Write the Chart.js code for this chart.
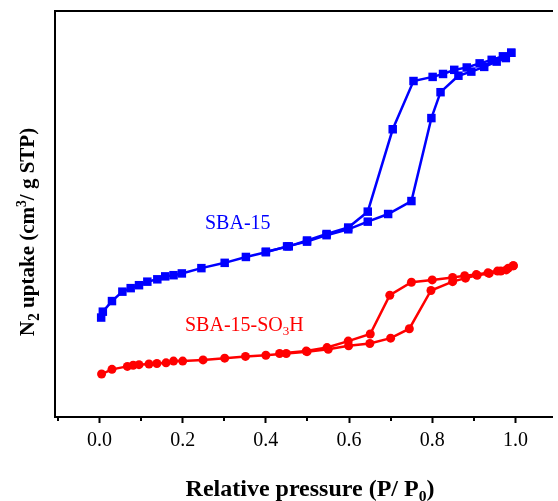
<!DOCTYPE html>
<html>
<head>
<meta charset="utf-8">
<script src="https://cdn.jsdelivr.net/npm/chart.js@4.4.1/dist/chart.umd.min.js"></script>
<style>
  html, body { margin: 0; padding: 0; background: #fff; overflow: hidden; }
</style>
</head>
<body>
<canvas id="iso" width="558" height="501"></canvas>
<script>
// SBA-15 isotherm (adsorption then desorption)
const sbaAdsX = [0.004, 0.008, 0.030, 0.055, 0.075, 0.095, 0.115, 0.139, 0.158, 0.178, 0.198, 0.245, 0.301, 0.352, 0.400, 0.451, 0.499, 0.546, 0.598, 0.645, 0.694, 0.750, 0.798, 0.820, 0.863, 0.894, 0.925, 0.955, 0.977, 0.990];
const sbaAdsY = [169, 179, 197, 213, 219, 224, 230, 234, 239, 241, 244, 253, 262, 272, 280, 290, 298, 309, 319, 332, 345, 367, 508, 552, 580, 587, 595, 604, 610, 619];
const sbaDesX = [0.990, 0.970, 0.943, 0.914, 0.883, 0.853, 0.826, 0.801, 0.755, 0.705, 0.645, 0.598, 0.546, 0.499, 0.455, 0.400];
const sbaDesY = [619, 613, 607, 601, 594, 590, 583, 578, 571, 489, 349, 322, 311, 300, 290, 281];

// SBA-15-SO3H isotherm
const soAdsX = [0.005, 0.030, 0.067, 0.081, 0.095, 0.119, 0.138, 0.160, 0.178, 0.200, 0.249, 0.301, 0.351, 0.400, 0.449, 0.499, 0.550, 0.599, 0.650, 0.700, 0.745, 0.797, 0.849, 0.880, 0.908, 0.937, 0.965, 0.983, 0.995];
const soAdsY = [73, 81, 86, 88, 89, 90, 91, 92, 95, 95, 97, 100, 103, 105, 108, 111, 115, 121, 125, 134, 150, 215, 230, 236, 241, 244, 248, 253, 257];
const soDesX = [0.995, 0.978, 0.957, 0.934, 0.906, 0.878, 0.849, 0.800, 0.750, 0.698, 0.651, 0.598, 0.547, 0.497, 0.433];
const soDesY = [257, 250, 248, 245, 242, 240, 237, 233, 229, 207, 141, 129, 118, 112, 108];

const xMajor = [0.0, 0.2, 0.4, 0.6, 0.8, 1.0];
const xMinor = [-0.1, 0.1, 0.3, 0.5, 0.7, 0.9];

const BLUE = '#0000ff';
const RED = '#ff0000';
const SERIF = '"Liberation Serif", "Times New Roman", serif';

function pts(xs, ys) {
  return xs.map((x, i) => ({x: x, y: ys[i]}));
}

function series(label, xs, ys, color, style, r) {
  return {
    label: label,
    data: pts(xs, ys),
    showLine: true,
    borderColor: color,
    backgroundColor: color,
    borderWidth: 2.5,
    pointStyle: style,
    pointRadius: r,
    pointBorderWidth: 0,
    pointHoverRadius: r,
    tension: 0
  };
}

// draws text made of pieces, some of them sub/superscript
function richText(ctx, parts, x, y, size, color, bold, align, rotate) {
  ctx.save();
  ctx.translate(x, y);
  if (rotate) ctx.rotate(-Math.PI / 2);
  ctx.fillStyle = color;
  ctx.textBaseline = 'alphabetic';
  ctx.textAlign = 'left';
  const font = s => (bold ? 'bold ' : '') + s + 'px ' + SERIF;
  let total = 0;
  parts.forEach(p => {
    ctx.font = font(size * (p.s || 1));
    p.w = ctx.measureText(p.t).width;
    total += p.w;
  });
  let cx = align === 'center' ? -total / 2 : 0;
  parts.forEach(p => {
    ctx.font = font(size * (p.s || 1));
    ctx.fillText(p.t, cx, (p.dy || 0) * size);
    cx += p.w;
  });
  ctx.restore();
}

const extras = {
  id: 'extras',
  afterDraw(chart) {
    const ctx = chart.ctx;
    const xs = chart.scales.x;
    const area = chart.chartArea;
    ctx.save();
    ctx.strokeStyle = '#000';
    ctx.lineWidth = 2;
    xMinor.forEach(v => {
      const px = Math.round(xs.getPixelForValue(v));
      ctx.beginPath();
      ctx.moveTo(px, area.bottom);
      ctx.lineTo(px, area.bottom + 4);
      ctx.stroke();
    });
    ctx.restore();

    // axis titles
    richText(ctx, [
      {t: 'N'}, {t: '2', s: 0.75, dy: 0.25}, {t: ' uptake (cm'},
      {t: '3', s: 0.65, dy: -0.4}, {t: '/ g STP)'}
    ], 34, 232, 21, '#000', true, 'center', true);
    richText(ctx, [
      {t: 'Relative pressure (P/ P'}, {t: '0', s: 0.65, dy: 0.22}, {t: ')'}
    ], 310, 496, 24, '#000', true, 'center', false);

    // series labels
    richText(ctx, [{t: 'SBA-15'}], 205, 229, 20, BLUE, false, 'left', false);
    richText(ctx, [
      {t: 'SBA-15-SO'}, {t: '3', s: 0.65, dy: 0.22}, {t: 'H'}
    ], 185, 331, 20, RED, false, 'left', false);
  }
};

new Chart(document.getElementById('iso'), {
  type: 'scatter',
  data: {
    datasets: [
      series('SBA-15 ads', sbaAdsX, sbaAdsY, BLUE, 'rect', 6),
      series('SBA-15 des', sbaDesX, sbaDesY, BLUE, 'rect', 6),
      series('SBA-15-SO3H ads', soAdsX, soAdsY, RED, 'circle', 4.5),
      series('SBA-15-SO3H des', soDesX, soDesY, RED, 'circle', 4.5)
    ]
  },
  options: {
    responsive: false,
    animation: false,
    events: [],
    layout: { padding: 0 },
    plugins: {
      legend: { display: false },
      tooltip: { enabled: false }
    },
    scales: {
      x: {
        type: 'linear',
        position: 'bottom',
        min: -0.107,
        max: 1.088,
        afterFit: s => { s.height = 84; },
        afterBuildTicks: s => { s.ticks = xMajor.map(v => ({value: v})); },
        grid: {
          display: true,
          drawOnChartArea: false,
          drawTicks: true,
          tickLength: 6,
          tickWidth: 2,
          tickColor: '#000'
        },
        border: { display: true, color: '#000', width: 2 },
        ticks: {
          color: '#000',
          padding: 6,
          font: { family: SERIF, size: 20 },
          callback: v => v.toFixed(1)
        }
      },
      xTop: {
        type: 'linear',
        position: 'top',
        min: -0.107,
        max: 1.088,
        afterFit: s => { s.height = 11; },
        grid: { display: false, drawTicks: false },
        border: { display: true, color: '#000', width: 2 },
        ticks: { display: false }
      },
      y: {
        type: 'linear',
        position: 'left',
        min: 0,
        max: 690,
        afterFit: s => { s.width = 55; },
        grid: { display: false, drawTicks: false },
        border: { display: true, color: '#000', width: 2 },
        ticks: { display: false }
      }
    }
  },
  plugins: [extras]
});
</script>
</body>
</html>
